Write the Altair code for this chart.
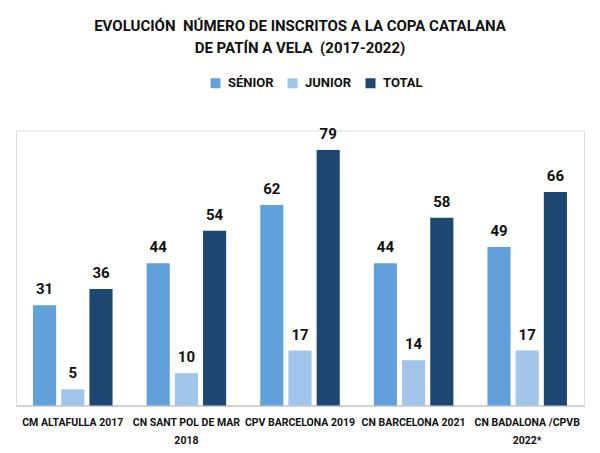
import altair as alt
import pandas as pd

categories = ["CM ALTAFULLA 2017", "CN SANT POL DE MAR|2018", "CPV BARCELONA 2019",
              "CN BARCELONA 2021", "CN BADALONA /CPVB|2022*"]
series = ["SÉNIOR", "JUNIOR", "TOTAL"]
senior = [31, 44, 62, 44, 49]
junior = [5, 10, 17, 14, 17]
total = [36, 54, 79, 58, 66]
colors = ["#62a0dc", "#a0c4ea", "#1e4771"]

rows = []
for i, c in enumerate(categories):
    for s, vals in zip(series, [senior, junior, total]):
        rows.append({"evento": c, "serie": s, "valor": vals[i]})
df = pd.DataFrame(rows)

FONT = "Roboto"

x = alt.X("evento:N", sort=categories,
          scale=alt.Scale(paddingInner=0.3, paddingOuter=0.15),
          axis=alt.Axis(title=None, labelAngle=0, ticks=False, labelPadding=12,
                        labelExpr="split(datum.label, '|')",
                        labelFont=FONT, labelFontSize=10.5, labelFontWeight="bold",
                        labelColor="#111", labelLineHeight=18,
                        domainColor="#c8c8c8", domainWidth=1.5, labelLimit=200))
xo = alt.XOffset("serie:N", sort=series, scale=alt.Scale(paddingInner=0.18, paddingOuter=0))
y = alt.Y("valor:Q", scale=alt.Scale(domain=[0, 85]), axis=None)

bars = alt.Chart(df).mark_bar().encode(
    x=x, xOffset=xo, y=y,
    color=alt.Color("serie:N", sort=series,
                    scale=alt.Scale(domain=series, range=colors),
                    legend=alt.Legend(title=None, orient="none", direction="horizontal",
                                      legendX=193, legendY=-54,
                                      symbolType="square", symbolSize=100,
                                      symbolStrokeWidth=0, columnPadding=12,
                                      labelFont=FONT, labelFontSize=13,
                                      labelFontWeight="bold", labelColor="#111",
                                      labelOffset=6)),
)

labels = alt.Chart(df).mark_text(dy=-8, baseline="bottom", font=FONT, fontSize=15,
                                 fontWeight="bold", color="#111").encode(
    x=x, xOffset=xo, y=y, text="valor:Q")

chart = alt.layer(bars, labels).properties(
    width=568, height=275,
    title=alt.Title(["EVOLUCIÓN \u00a0NÚMERO DE INSCRITOS A LA COPA CATALANA",
                     "DE PATÍN A VELA \u00a0(2017-2022)"],
                    font=FONT, fontSize=15, fontWeight="bold", color="#111",
                    anchor="middle", lineHeight=22, offset=21),
    autosize=alt.AutoSizeParams(type="none"),
    padding={"left": 8, "top": 122.5, "right": 8, "bottom": 45},
).configure_view(stroke=None).configure(background="white")

chart.save("out.html", embed_options={"renderer": "svg", "actions": False})
